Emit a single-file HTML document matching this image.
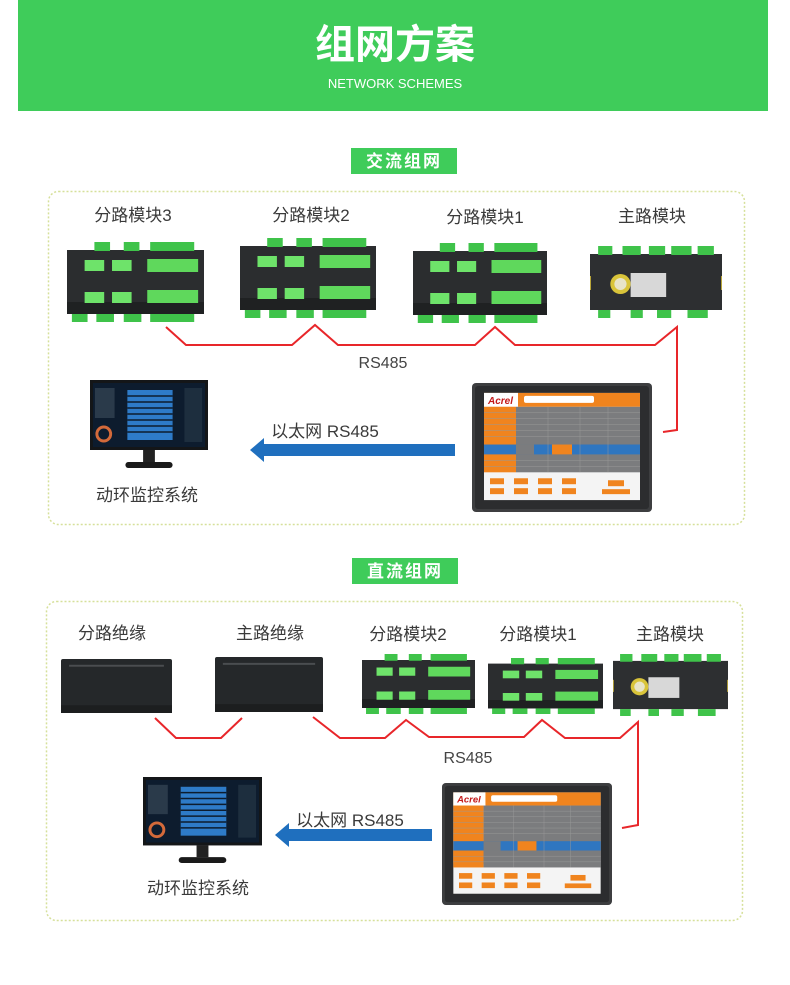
<!DOCTYPE html>
<html><head><meta charset="utf-8"><style>
html,body{margin:0;padding:0;background:#fff;}
svg{display:block;font-family:"Liberation Sans","Noto Sans CJK SC",sans-serif;}
</style></head><body>
<svg width="790" height="985" viewBox="0 0 790 985" xmlns="http://www.w3.org/2000/svg">
<defs>
<symbol id="mod" viewBox="0 0 140 80" preserveAspectRatio="none">
<rect x="0" y="8" width="140" height="64" fill="#2b2d2f"/>
<rect x="0" y="60" width="140" height="12" fill="#1f2122"/>
<rect x="28" y="0" width="16" height="9" fill="#3fc34a"/><rect x="58" y="0" width="16" height="9" fill="#3fc34a"/><rect x="85" y="0" width="45" height="9" fill="#3fc34a"/>
<rect x="18" y="18" width="20" height="11" fill="#6ee36a"/><rect x="46" y="18" width="20" height="11" fill="#6ee36a"/><rect x="82" y="17" width="52" height="13" fill="#5fd85c"/>
<rect x="18" y="50" width="20" height="11" fill="#6ee36a"/><rect x="46" y="50" width="20" height="11" fill="#6ee36a"/><rect x="82" y="48" width="52" height="13" fill="#5fd85c"/>
<rect x="5" y="72" width="16" height="8" fill="#3fc34a"/><rect x="30" y="72" width="18" height="8" fill="#3fc34a"/><rect x="58" y="72" width="18" height="8" fill="#3fc34a"/><rect x="85" y="72" width="45" height="8" fill="#3fc34a"/>
</symbol>
<symbol id="main" viewBox="0 0 130 72" preserveAspectRatio="none">
<rect x="0" y="8" width="130" height="56" fill="#2d2f31"/>
<rect x="8" y="0" width="14" height="9" fill="#3fc34a"/><rect x="32" y="0" width="18" height="9" fill="#3fc34a"/><rect x="58" y="0" width="16" height="9" fill="#3fc34a"/><rect x="80" y="0" width="20" height="9" fill="#3fc34a"/><rect x="106" y="0" width="16" height="9" fill="#3fc34a"/>
<circle cx="30" cy="38" r="10" fill="#d9c43a"/><circle cx="30" cy="38" r="6" fill="#e8e4c8"/>
<rect x="40" y="27" width="35" height="24" fill="#d8d8d8"/>
<rect x="-4" y="30" width="5" height="14" fill="#b9a63a"/><rect x="129" y="30" width="5" height="14" fill="#b9a63a"/>
<rect x="8" y="64" width="12" height="8" fill="#3fc34a"/><rect x="40" y="64" width="12" height="8" fill="#3fc34a"/><rect x="66" y="64" width="14" height="8" fill="#3fc34a"/><rect x="96" y="64" width="20" height="8" fill="#3fc34a"/>
</symbol>
<symbol id="ins" viewBox="0 0 110 56" preserveAspectRatio="none">
<rect x="0" y="0" width="110" height="56" rx="2" fill="#25282a"/>
<rect x="0" y="48" width="110" height="8" fill="#1c1e1f"/>
<rect x="8" y="6" width="94" height="2" fill="#4a4d50"/>
</symbol>
<symbol id="mon" viewBox="0 0 120 90" preserveAspectRatio="none">
<rect x="0" y="0" width="120" height="70" fill="#141618"/>
<rect x="3" y="3" width="114" height="64" fill="#0d1c2e"/>
<rect x="5" y="8" width="20" height="30" fill="#2a3a4a"/>
<rect x="96" y="8" width="18" height="54" fill="#1d2e3e"/>
<rect x="38" y="10" width="46" height="50" fill="#2e7bc8"/>
<g stroke="#0d1c2e" stroke-width="1.5"><line x1="38" y1="16" x2="84" y2="16"/><line x1="38" y1="22" x2="84" y2="22"/><line x1="38" y1="28" x2="84" y2="28"/><line x1="38" y1="34" x2="84" y2="34"/><line x1="38" y1="40" x2="84" y2="40"/><line x1="38" y1="46" x2="84" y2="46"/><line x1="38" y1="52" x2="84" y2="52"/></g>
<circle cx="14" cy="54" r="7" fill="none" stroke="#d46a3a" stroke-width="3"/>
<rect x="54" y="70" width="12" height="12" fill="#222"/>
<rect x="36" y="82" width="48" height="6" rx="3" fill="#1a1a1a"/>
</symbol>
<symbol id="tp" viewBox="0 0 180 130" preserveAspectRatio="none">
<rect x="0" y="0" width="180" height="130" rx="4" fill="#3d3e40"/>
<rect x="3" y="3" width="174" height="124" rx="3" fill="#2c2d2f"/>
<rect x="12" y="10" width="156" height="108" fill="#f4f4f4"/>
<rect x="12" y="10" width="156" height="14" fill="#f0841e"/>
<rect x="12" y="10" width="34" height="14" fill="#fff"/>
<text x="16" y="21" font-size="10" font-weight="bold" font-style="italic" fill="#c41a1a">Acrel</text>
<rect x="52" y="13" width="70" height="7" rx="2" fill="#fff"/>
<rect x="12" y="24" width="32" height="62" fill="#f0841e"/>
<rect x="44" y="24" width="124" height="62" fill="#7b7c7e"/>
<rect x="12" y="62" width="156" height="10" fill="#2f76c0"/>
<rect x="44" y="62" width="18" height="10" fill="#7b7c7e"/><rect x="80" y="62" width="20" height="10" fill="#f0841e"/>
<rect x="12" y="72" width="32" height="18" fill="#f0841e"/><rect x="44" y="72" width="124" height="18" fill="#7b7c7e"/>
<g stroke="#999" stroke-width="0.5"><line x1="12" y1="30" x2="168" y2="30"/><line x1="12" y1="36" x2="168" y2="36"/><line x1="12" y1="42" x2="168" y2="42"/><line x1="12" y1="48" x2="168" y2="48"/><line x1="12" y1="54" x2="168" y2="54"/><line x1="12" y1="78" x2="168" y2="78"/><line x1="12" y1="84" x2="168" y2="84"/><line x1="76" y1="24" x2="76" y2="90"/><line x1="108" y1="24" x2="108" y2="90"/><line x1="136" y1="24" x2="136" y2="90"/></g>
<g fill="#f0841e"><rect x="18" y="96" width="14" height="6"/><rect x="42" y="96" width="14" height="6"/><rect x="66" y="96" width="14" height="6"/><rect x="90" y="96" width="14" height="6"/><rect x="18" y="106" width="14" height="6"/><rect x="42" y="106" width="14" height="6"/><rect x="66" y="106" width="14" height="6"/><rect x="90" y="106" width="14" height="6"/><rect x="136" y="98" width="16" height="6"/><rect x="130" y="107" width="28" height="5"/></g>
</symbol>
</defs>

<rect x="18" y="0" width="750" height="111" fill="#3fcc5a"/>
<text x="395" y="58" text-anchor="middle" font-size="40" font-weight="bold" fill="#fff">组网方案</text>
<text x="395" y="88" text-anchor="middle" font-size="13" fill="#fff">NETWORK SCHEMES</text>

<rect x="351" y="148" width="106" height="26" fill="#3fcc5a"/>
<text x="404" y="167" text-anchor="middle" font-size="17" font-weight="bold" fill="#fff" letter-spacing="2">交流组网</text>
<rect x="48.5" y="191.5" width="696" height="333" rx="10" fill="none" stroke="#d6e09a" stroke-width="1.5" stroke-dasharray="2,2"/>
<g font-size="17" fill="#3a3a3a" text-anchor="middle">
<text x="133" y="221">分路模块3</text><text x="311" y="221">分路模块2</text><text x="485" y="223">分路模块1</text><text x="652" y="222">主路模块</text>
</g>
<use href="#mod" x="67" y="242" width="137" height="80"/>
<use href="#mod" x="240" y="238" width="136" height="80"/>
<use href="#mod" x="413" y="243" width="134" height="80"/>
<use href="#main" x="590" y="246" width="132" height="72"/>
<polyline points="166,327 186,345 292,345 315,325 338,345 475,345 495,327 515,345 655,345 677,327 677,430 663,432" fill="none" stroke="#e8262a" stroke-width="2"/>
<text x="383" y="368" text-anchor="middle" font-size="16" fill="#444">RS485</text>
<use href="#mon" x="90" y="380" width="118" height="90"/>
<text x="147" y="501" text-anchor="middle" font-size="17" fill="#3a3a3a">动环监控系统</text>
<text x="325" y="437" text-anchor="middle" font-size="17" fill="#3a3a3a">以太网 RS485</text>
<rect x="262" y="444" width="193" height="12" fill="#1f6fbe"/>
<polygon points="250,450 264,438 264,462" fill="#1f6fbe"/>
<use href="#tp" x="472" y="383" width="180" height="129"/>

<rect x="352" y="558" width="106" height="26" fill="#3fcc5a"/>
<text x="405" y="577" text-anchor="middle" font-size="17" font-weight="bold" fill="#fff" letter-spacing="2">直流组网</text>
<rect x="46.5" y="601.5" width="696" height="319" rx="10" fill="none" stroke="#d6e09a" stroke-width="1.5" stroke-dasharray="2,2"/>
<g font-size="17" fill="#3a3a3a" text-anchor="middle">
<text x="112" y="639">分路绝缘</text><text x="270" y="639">主路绝缘</text><text x="408" y="640">分路模块2</text><text x="538" y="640">分路模块1</text><text x="670" y="640">主路模块</text>
</g>
<use href="#ins" x="61" y="659" width="111" height="54"/>
<use href="#ins" x="215" y="657" width="108" height="55"/>
<use href="#mod" x="362" y="654" width="113" height="60"/>
<use href="#mod" x="488" y="658" width="115" height="56"/>
<use href="#main" x="613" y="654" width="115" height="62"/>
<polyline points="155,718 176,738 221,738 242,718" fill="none" stroke="#e8262a" stroke-width="2"/>
<polyline points="313,717 340,738 385,738 406,720 429,737 524,737 542,720 565,738 620,738 638,722 638,825 622,828" fill="none" stroke="#e8262a" stroke-width="2"/>
<text x="468" y="763" text-anchor="middle" font-size="16" fill="#444">RS485</text>
<use href="#mon" x="143" y="777" width="119" height="88"/>
<text x="198" y="894" text-anchor="middle" font-size="17" fill="#3a3a3a">动环监控系统</text>
<text x="350" y="826" text-anchor="middle" font-size="17" fill="#3a3a3a">以太网 RS485</text>
<rect x="287" y="829" width="145" height="12" fill="#1f6fbe"/>
<polygon points="275,835 289,823 289,847" fill="#1f6fbe"/>
<use href="#tp" x="442" y="783" width="170" height="122"/>
</svg>
</body></html>
